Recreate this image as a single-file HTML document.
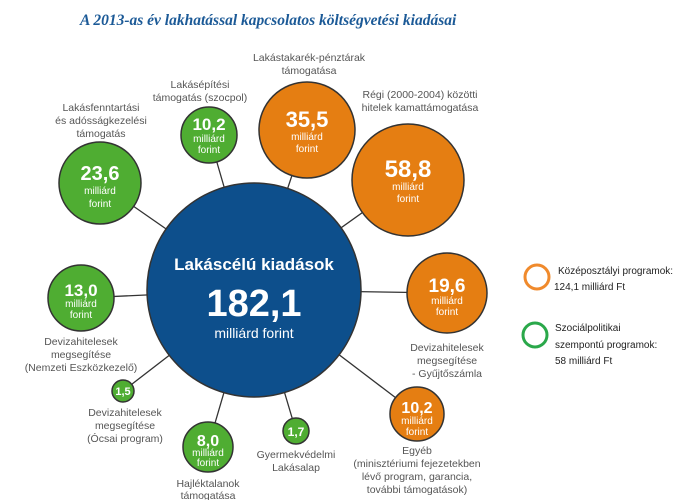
<!DOCTYPE html>
<html><head><meta charset="utf-8"><style>
body{margin:0;background:#fff;width:681px;height:500px;overflow:hidden}
svg{display:block}
.lb{font-family:"Liberation Sans",sans-serif;font-size:10.5px;fill:#555;text-anchor:middle}
.v{font-family:"Liberation Sans",sans-serif;font-weight:bold;fill:#fff;text-anchor:middle}
.s{font-family:"Liberation Sans",sans-serif;fill:#fff;text-anchor:middle;font-size:10px}
.lg{font-family:"Liberation Sans",sans-serif;font-size:10px;fill:#222}
</style></head><body>
<svg width="681" height="500" viewBox="0 0 681 500">
<text x="80" y="25" font-family="Liberation Serif,serif" font-style="italic" font-weight="bold" font-size="15.5" fill="#1c5a97">A 2013-as év lakhatással kapcsolatos költségvetési kiadásai</text>
<g stroke="#333" stroke-width="1.3">
<line x1="254" y1="290" x2="100" y2="183"/>
<line x1="254" y1="290" x2="209" y2="135"/>
<line x1="254" y1="290" x2="307" y2="130"/>
<line x1="254" y1="290" x2="408" y2="180"/>
<line x1="254" y1="290" x2="81" y2="298"/>
<line x1="254" y1="290" x2="447" y2="293"/>
<line x1="254" y1="290" x2="123" y2="391"/>
<line x1="254" y1="290" x2="208" y2="447"/>
<line x1="254" y1="290" x2="296" y2="431"/>
<line x1="254" y1="290" x2="417" y2="414"/>
</g>
<g stroke="#333" stroke-width="1.5">
<circle cx="254" cy="290" r="107" fill="#0d4f8c"/>
<circle cx="100" cy="183" r="41" fill="#4fad32"/>
<circle cx="209" cy="135" r="28" fill="#4fad32"/>
<circle cx="307" cy="130" r="48" fill="#e57e12"/>
<circle cx="408" cy="180" r="56" fill="#e57e12"/>
<circle cx="81" cy="298" r="33" fill="#4fad32"/>
<circle cx="447" cy="293" r="40" fill="#e57e12"/>
<circle cx="123" cy="391" r="11" fill="#4fad32"/>
<circle cx="208" cy="447" r="25" fill="#4fad32"/>
<circle cx="296" cy="431" r="13" fill="#4fad32"/>
<circle cx="417" cy="414" r="27" fill="#e57e12"/>
</g>
<text class="v" x="254" y="270" font-size="17">Lakáscélú kiadások</text>
<text class="v" x="254" y="316" font-size="38">182,1</text>
<text class="v" x="254" y="338" style="font-weight:normal;font-size:14px">milliárd forint</text>

<text class="v" x="100" y="180" font-size="20">23,6</text><text class="s" x="100" y="194">milliárd</text><text class="s" x="100" y="207">forint</text>
<text class="v" x="209" y="130" font-size="17">10,2</text><text class="s" x="209" y="142" font-size="8.5">milliárd</text><text class="s" x="209" y="153" font-size="8.5">forint</text>
<text class="v" x="307" y="127" font-size="22">35,5</text><text class="s" x="307" y="140">milliárd</text><text class="s" x="307" y="152">forint</text>
<text class="v" x="408" y="177" font-size="24">58,8</text><text class="s" x="408" y="190">milliárd</text><text class="s" x="408" y="202">forint</text>
<text class="v" x="81" y="296" font-size="17">13,0</text><text class="s" x="81" y="307" font-size="8.5">milliárd</text><text class="s" x="81" y="318" font-size="8.5">forint</text>
<text class="v" x="447" y="292" font-size="19">19,6</text><text class="s" x="447" y="304">milliárd</text><text class="s" x="447" y="315">forint</text>
<text class="v" x="123" y="395" font-size="11">1,5</text>
<text class="v" x="208" y="446" font-size="16">8,0</text><text class="s" x="208" y="456" font-size="8">milliárd</text><text class="s" x="208" y="466" font-size="8">forint</text>
<text class="v" x="296" y="436" font-size="12">1,7</text>
<text class="v" x="417" y="413" font-size="16">10,2</text><text class="s" x="417" y="424" font-size="8.5">milliárd</text><text class="s" x="417" y="435" font-size="8.5">forint</text>

<text class="lb" x="101" y="111">Lakásfenntartási</text><text class="lb" x="101" y="124">és adósságkezelési</text><text class="lb" x="101" y="137">támogatás</text>
<text class="lb" x="200" y="88">Lakásépítési</text><text class="lb" x="200" y="101">támogatás (szocpol)</text>
<text class="lb" x="309" y="61">Lakástakarék-pénztárak</text><text class="lb" x="309" y="74">támogatása</text>
<text class="lb" x="420" y="98">Régi (2000-2004) közötti</text><text class="lb" x="420" y="111">hitelek kamattámogatása</text>
<text class="lb" x="81" y="345">Devizahitelesek</text><text class="lb" x="81" y="358">megsegítése</text><text class="lb" x="81" y="371">(Nemzeti Eszközkezelő)</text>
<text class="lb" x="447" y="351">Devizahitelesek</text><text class="lb" x="447" y="364">megsegítése</text><text class="lb" x="447" y="377">- Gyűjtőszámla</text>
<text class="lb" x="125" y="416">Devizahitelesek</text><text class="lb" x="125" y="429">megsegítése</text><text class="lb" x="125" y="442">(Ócsai program)</text>
<text class="lb" x="208" y="487">Hajléktalanok</text><text class="lb" x="208" y="499">támogatása</text>
<text class="lb" x="296" y="458">Gyermekvédelmi</text><text class="lb" x="296" y="471">Lakásalap</text>
<text class="lb" x="417" y="454">Egyéb</text><text class="lb" x="417" y="467">(minisztériumi fejezetekben</text><text class="lb" x="417" y="480">lévő program, garancia,</text><text class="lb" x="417" y="493">további támogatások)</text>

<circle cx="537" cy="277" r="12" fill="none" stroke="#f08a2c" stroke-width="3"/>
<circle cx="535" cy="335" r="12" fill="none" stroke="#2aa84a" stroke-width="3"/>
<text class="lg" x="558" y="274">Középosztályi programok:</text>
<text class="lg" x="554" y="290">124,1 milliárd Ft</text>
<text class="lg" x="555" y="331">Szociálpolitikai</text>
<text class="lg" x="555" y="348">szempontú programok:</text>
<text class="lg" x="555" y="364">58 milliárd Ft</text>
</svg>
</body></html>
